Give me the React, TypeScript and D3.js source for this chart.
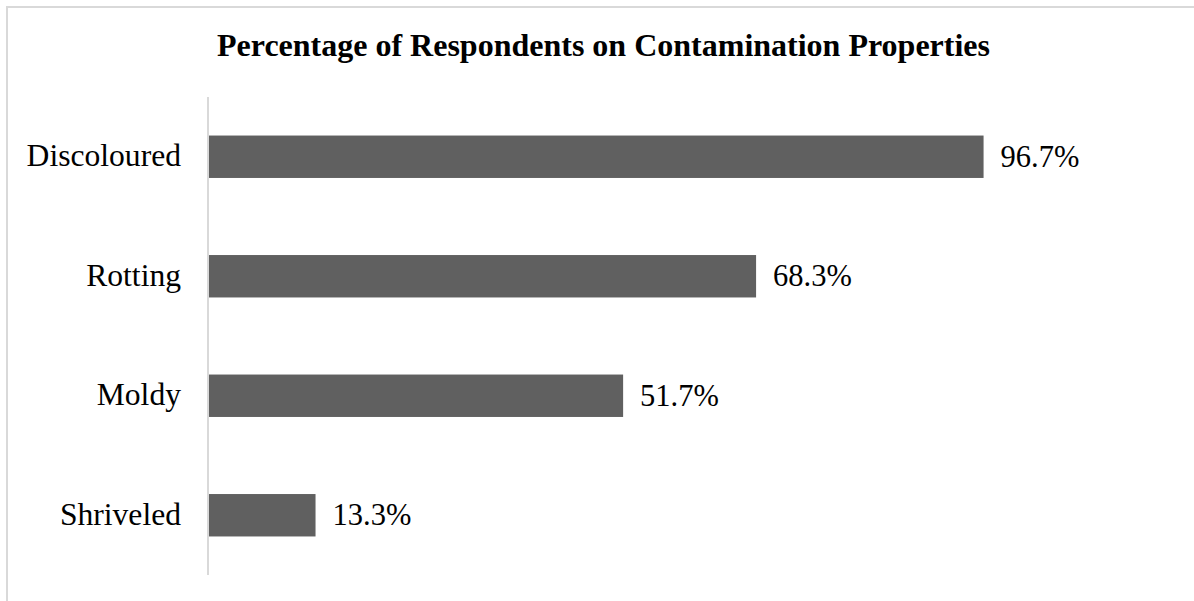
import React from "react";
import * as d3 from "d3";

const categories = ["Discoloured", "Rotting", "Moldy", "Shriveled"];
const percentages = [96.7, 68.3, 51.7, 13.3];
const chartTitle = "Percentage of Respondents on Contamination Properties";

const W = 1194;
const H = 601;
const font = "'Liberation Serif', 'Times New Roman', serif";

export default function App() {
  const axisX = 208;
  const top = 97;
  const bottom = 575;

  const x = d3.scaleLinear().domain([0, 100]).range([axisX + 1, axisX + 1 + 801]);
  const y = d3
    .scaleBand<string>()
    .domain(categories)
    .range([top, bottom])
    .paddingInner(0.645)
    .paddingOuter(0.3225);

  return (
    <svg
      width={W}
      height={H}
      style={{ position: "absolute", left: 0, top: 0, display: "block" }}
    >
      <rect x={0} y={0} width={W} height={H} fill="#fff" />
      <rect x={7} y={7} width={W + 10} height={H + 10} fill="none" stroke="#d9d9d9" strokeWidth={2} />
      <text
        x={603.5}
        y={56}
        textAnchor="middle"
        fontFamily={font}
        fontWeight="bold"
        fontSize={32}
        fill="#000"
      >
        {chartTitle}
      </text>
      {categories.map((c, i) => {
        const by = y(c)!;
        const bw = y.bandwidth();
        const v = percentages[i];
        const cy = by + bw / 2;
        return (
          <g key={c}>
            <rect x={x(0)} y={by} width={x(v) - x(0)} height={bw} fill="#606060" />
            <text
              x={x(v) + 17}
              y={cy + 10}
              fontFamily={font}
              fontSize={30.5}
              fill="#000"
            >
              {`${v.toFixed(1)}%`}
            </text>
            <text
              x={181}
              y={cy + 9.5}
              textAnchor="end"
              fontFamily={font}
              fontSize={31.6}
              fill="#000"
            >
              {c}
            </text>
          </g>
        );
      })}
      <line x1={axisX} x2={axisX} y1={top} y2={bottom} stroke="#d9d9d9" strokeWidth={2} />
    </svg>
  );
}
